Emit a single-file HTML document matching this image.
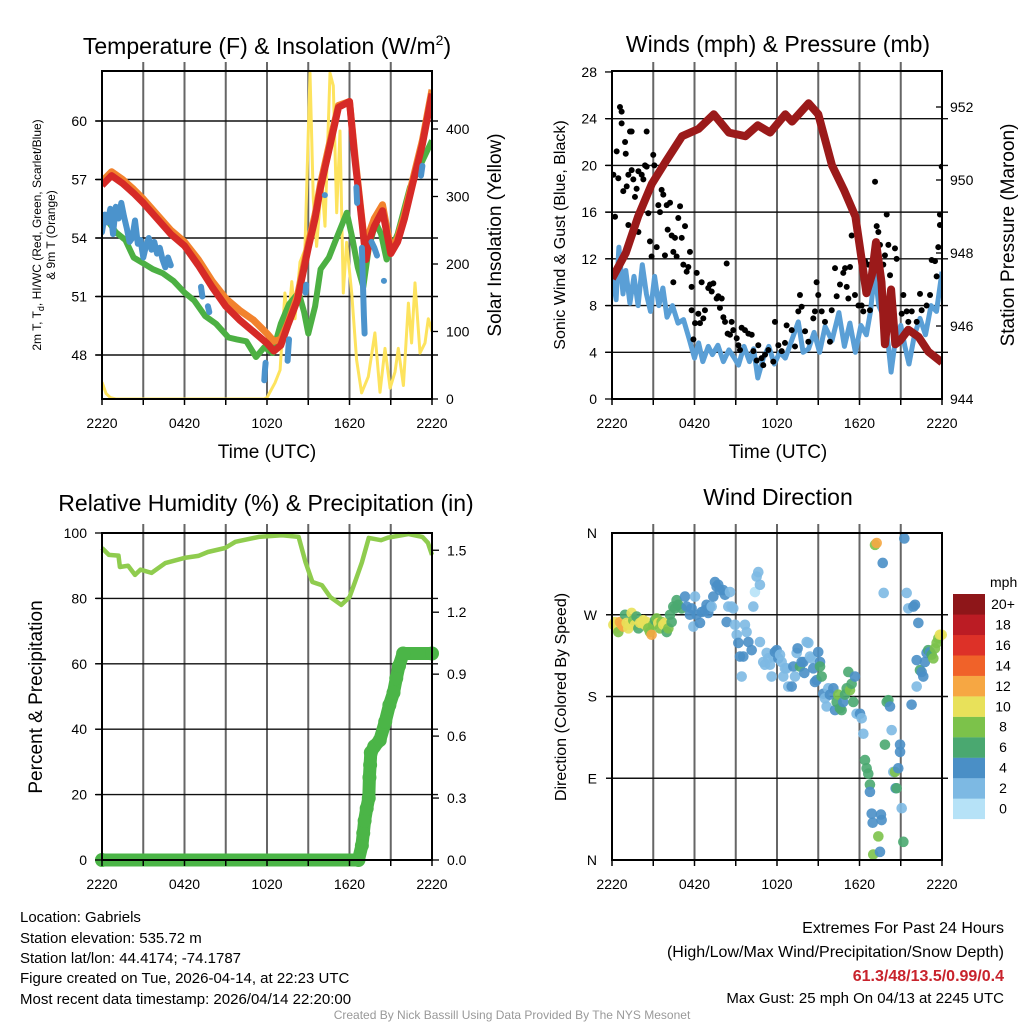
<!DOCTYPE html>
<html><head><meta charset="utf-8"><style>
html,body{margin:0;padding:0;background:#fff;}
svg{display:block;font-family:"Liberation Sans",Arial,sans-serif;}
</style></head><body>
<svg id="s" width="1024" height="1024" viewBox="0 0 1024 1024" xmlns="http://www.w3.org/2000/svg">
<defs>
<clipPath id="c1"><rect x="102" y="71" width="330" height="328"/></clipPath>
<clipPath id="c2"><rect x="612" y="71" width="330" height="328"/></clipPath>
<clipPath id="c3"><rect x="90" y="520" width="355" height="350"/></clipPath>
<clipPath id="c4"><rect x="605" y="525" width="345" height="345"/></clipPath>
</defs>
<g id="grids"></g>
<g id="p1" clip-path="url(#c1)"></g>
<g id="p2" clip-path="url(#c2)"></g>
<g id="p3" clip-path="url(#c3)"></g>
<g id="p4" clip-path="url(#c4)"></g>
<g id="frames"></g>
<g id="labels" font-size="14" fill="#000"></g>

<text x="267" y="54" font-size="23" text-anchor="middle">Temperature (F) &amp; Insolation (W/m<tspan dy="-9" font-size="14">2</tspan><tspan dy="9">)</tspan></text>
<text x="778" y="52" font-size="23" text-anchor="middle">Winds (mph) &amp; Pressure (mb)</text>
<text x="266" y="511" font-size="23" text-anchor="middle">Relative Humidity (%) &amp; Precipitation (in)</text>
<text x="778" y="505" font-size="23" text-anchor="middle">Wind Direction</text>

<text x="267" y="458" font-size="19" text-anchor="middle">Time (UTC)</text>
<text x="778" y="458" font-size="19" text-anchor="middle">Time (UTC)</text>

<text transform="translate(41,235) rotate(-90)" font-size="12" text-anchor="middle">2m T, T<tspan dy="3" font-size="9">d</tspan><tspan dy="-3">, HI/WC (Red, Green, Scarlet/Blue)</tspan></text>
<text transform="translate(55,235) rotate(-90)" font-size="12" text-anchor="middle">&amp; 9m T (Orange)</text>
<text transform="translate(501,235) rotate(-90)" font-size="19" text-anchor="middle">Solar Insolation (Yellow)</text>
<text transform="translate(565,235) rotate(-90)" font-size="16" text-anchor="middle">Sonic Wind &amp; Gust (Blue, Black)</text>
<text transform="translate(1014,235) rotate(-90)" font-size="19" text-anchor="middle">Station Pressure (Maroon)</text>
<text transform="translate(42,697) rotate(-90)" font-size="19" text-anchor="middle">Percent &amp; Precipitation</text>
<text transform="translate(566,697) rotate(-90)" font-size="16" text-anchor="middle">Direction (Colored By Speed)</text>
<text x="990" y="587" font-size="14">mph</text>

<g font-size="15">
<text x="20" y="922">Location: Gabriels</text>
<text x="20" y="943">Station elevation: 535.72 m</text>
<text x="20" y="963">Station lat/lon: 44.4174; -74.1787</text>
<text x="20" y="983">Figure created on Tue, 2026-04-14, at 22:23 UTC</text>
<text x="20" y="1004">Most recent data timestamp: 2026/04/14 22:20:00</text>
</g>
<g font-size="16" text-anchor="end">
<text x="1004" y="933">Extremes For Past 24 Hours</text>
<text x="1004" y="957">(High/Low/Max Wind/Precipitation/Snow Depth)</text>
<text x="1004" y="981" fill="#c8232c" font-weight="bold">61.3/48/13.5/0.99/0.4</text>
<text x="1004" y="1003" font-size="15">Max Gust: 25 mph On 04/13 at 2245 UTC</text>
</g>
<text x="512" y="1019" font-size="12" fill="#999" text-anchor="middle">Created By Nick Bassill Using Data Provided By The NYS Mesonet</text>
</svg>
<script>
// ---------- data ----------
const xTickLabels = ["2220","0420","1020","1620","2220"];
const tempTicks = [48,51,54,57,60];
const solarTicks = [0,100,200,300,400];
const windTicks = [0,4,8,12,16,20,24,28];
const pressTicks = [944,946,948,950,952];
const rhTicks = [0,20,40,60,80,100];
const precipTicks = [0.0,0.3,0.6,0.9,1.2,1.5];
const dirLabels = ["N","E","S","W","N"];
const dirTicks = [0,90,180,270,360];
const cbarLabels = ["0","2","4","6","8","10","12","14","16","18","20+"];

const tempTimes = [0,0.7,1.5,2.3,3,4,5,6,7,8,9,10,11,12,12.5,13,13.5,14.2,15,15.5,15.9,16.5,17.2,18,18.4,18.8,19.2,19.5,19.8,20.4,21,21.5,22,22.6,23.3,24];
const temp2m = [56.7,57.2,56.8,56.3,55.8,55.0,54.2,53.6,52.6,51.5,50.5,49.8,49.2,48.6,48.2,48.5,49.5,50.8,53.5,55.0,56.6,58.5,60.7,61.0,58.0,55.5,52.9,54.0,54.6,55.4,53.2,53.8,55.0,56.8,58.8,61.4];
const temp9m = [56.9,57.4,57.0,56.5,56.0,55.2,54.4,53.8,52.9,51.8,50.9,50.3,49.8,49.1,48.7,48.8,49.6,51.0,53.7,55.2,56.8,58.7,60.8,61.0,58.2,55.6,53.1,54.4,55.0,55.7,53.4,54.0,55.2,57.0,59.0,61.6];
const dewTimes = [0,0.5,1.0,1.7,2.3,3,3.7,4.4,5.2,6,6.7,7.5,8.3,9.2,9.8,10.5,11.2,11.8,12.4,13,13.6,14.3,14.7,15,15.5,15.9,16.5,17,17.8,18.2,18.6,19,19.4,19.9,20.3,20.7,21.5,22.4,23.2,24];
const dewpoint = [55.2,54.8,54.3,53.9,53.0,52.7,52.4,52.2,51.8,51.2,50.8,50.0,49.6,48.9,48.8,48.7,47.9,48.4,48.1,49.6,50.6,51.2,50.2,49.1,50.5,52.4,53.0,53.9,55.3,54.0,52.5,51.5,53.5,54.8,54.2,52.9,54.2,56.6,57.8,59.0];
const wcTimes = [0,0.2,0.4,0.6,0.8,1.0,1.2,1.4,1.6,1.8,2.0,2.2,2.4,2.6,2.8,3.0,3.2,3.4,3.6,3.8,4.0,4.2,4.4,4.6,4.8,5.0,7.2,7.3,7.7,7.8,11.8,11.85,11.9,13.5,13.55,13.6,14.8,14.85,16.2,18.5,18.55,18.9,18.95,19.0,19.05,19.1,19.6,19.8,20.0,20.5,23.2,23.3];
const windChill = [54.3,55.2,54.8,55.5,54.2,55.6,55.0,55.8,55.1,54.5,53.8,54.0,54.9,53.7,53.9,53.0,53.6,54.0,53.4,53.8,53.2,53.5,52.9,52.5,53.0,52.6,51.5,51.0,50.5,50.2,46.7,47.2,47.6,47.7,48.3,48.8,51.2,51.6,56.2,56.6,55.8,53.5,52.3,51.0,50.0,49.1,53.8,53.5,53.1,51.8,57.2,57.7];
const solarTimes = [0,0.3,0.6,1,11.8,12.0,12.58,12.95,13.3,13.55,13.8,14.04,14.4,14.76,15.13,15.37,15.61,15.98,16.22,16.58,16.82,17.07,17.31,17.55,17.79,18.16,18.52,18.88,19.37,19.85,20.22,20.58,20.95,21.31,21.55,21.92,22.28,22.52,22.76,23.13,23.49,23.73,24];
const solar = [25,8,2,0,0,2,24,43,157,114,174,119,203,221,483,296,226,323,256,483,464,276,397,157,232,157,58,9,33,98,10,75,16,40,75,20,142,83,172,68,83,119,100];

const windTimes = [0,0.3,0.5,0.8,1.0,1.3,1.6,1.9,2.2,2.5,2.8,3.1,3.4,3.7,4.0,4.4,4.8,5.2,5.6,6.0,6.3,6.6,7.0,7.3,7.7,8.1,8.5,8.9,9.2,9.6,10.0,10.3,10.6,11.0,11.4,11.8,12.2,12.6,13.0,13.55,13.9,14.3,14.7,15.1,15.5,16.0,16.5,16.9,17.3,17.7,18.1,18.5,18.8,19.1,19.4,19.85,20.1,20.3,20.6,21.0,21.3,21.6,22.0,22.4,22.8,23.2,23.6,24.0];
const windSpeed = [10.9,8.5,13,9,11,8.2,10.5,8,11.5,9,7.5,10.5,8,9.5,7,8,6.5,6.8,5.2,3.5,4.8,3.2,4.5,3.8,4.6,3.2,4.2,3.5,2.9,4.5,3.2,4.3,1.8,3.5,4.5,3.0,4.0,3.5,4.8,6.6,4.0,4.3,5.7,4.0,6.2,5.0,7.4,4.5,6.5,4.0,6.3,5.5,7.5,10.9,8,6.8,4.5,2.3,5,6.3,4.5,3.0,5.5,6.9,5.5,8.0,7.5,10.9];
const gustTimes = [0.1,0.34,0.22,0.46,0.58,0.7,0.7,0.82,0.95,1.0,1.07,1.19,1.19,1.31,1.43,1.43,1.55,1.67,1.79,1.92,1.92,2.04,2.16,2.28,2.4,2.52,2.52,2.64,2.76,2.88,3.0,3.08,3.25,3.37,3.49,3.61,3.73,3.85,3.98,4.05,4.22,4.34,4.46,4.46,4.58,4.7,4.82,4.95,5.07,5.19,5.31,5.43,5.55,5.67,5.79,5.79,5.92,6.04,6.16,6.28,6.4,6.52,6.64,6.76,7.0,7.13,7.25,7.37,7.61,7.73,7.85,7.98,8.1,8.22,8.34,8.41,8.58,8.7,8.82,9.07,9.19,9.31,9.43,9.67,9.92,10.16,10.28,10.52,10.64,10.88,11.0,11.13,11.37,11.73,11.85,12.1,12.34,12.58,12.7,13.07,13.31,13.55,13.67,13.79,14.04,14.28,14.64,14.76,14.88,15.0,15.25,15.49,15.85,15.98,16.22,16.34,16.58,16.82,16.95,17.07,17.19,17.31,17.43,17.67,17.92,18.16,18.28,18.4,18.64,18.76,19.13,19.25,19.37,19.49,19.73,19.85,19.98,20.1,20.22,20.58,20.7,21.07,21.19,21.43,21.55,21.8,22.16,22.4,22.52,22.88,23.13,23.25,23.49,23.61,23.73,23.85,23.85,23.98];
const gustSpeed = [19.2,21.2,15.6,18.9,25.0,24.6,23.6,17.8,22.0,21.0,18.2,14.9,19.2,22.9,22.9,19.6,18.8,17.3,18.0,19.5,14.3,16.0,19.2,18.8,20.0,22.9,19.9,15.9,13.5,12.2,20.9,20.0,13.0,16.6,16.0,17.9,17.5,12.3,16.6,14.5,16.8,14.0,10.0,12.6,13.8,12.2,15.5,16.5,13.8,11.5,14.8,10.9,11.3,12.6,9.6,7.6,5.1,6.5,10.8,7.3,6.5,10.0,6.9,7.6,9.5,9.8,9.2,9.9,8.6,8.8,7.8,8.6,7.0,6.6,11.6,5.6,5.5,6.6,5.9,5.2,4.6,4.2,6.1,5.9,5.6,5.5,4.1,3.3,4.6,3.5,2.9,3.8,4.2,3.2,6.6,4.6,4.1,4.8,6.3,5.9,4.5,7.5,8.9,7.9,5.8,4.9,6.9,7.5,10.0,8.9,7.5,6.6,4.9,7.6,11.2,8.8,9.8,10.8,11.2,9.6,8.6,11.3,14.0,8.9,8.0,8.0,7.5,11.8,11.5,7.6,18.6,14.8,14.3,13.2,11.5,12.3,15.8,13.2,10.6,12.9,12.0,7.3,8.9,7.5,6.6,7.5,6.6,9.0,7.6,8.0,8.9,11.9,11.8,10.5,13.0,14.9,15.8,19.9];
const pressTimes = [0,1.0,1.9,2.9,3.9,5.1,6.3,7.4,8.5,9.7,10.6,11.5,12.6,13.1,14.3,15.0,16.0,16.9,17.7,18.2,18.5,18.9,19.2,19.6,19.85,20.3,20.6,20.95,21.55,22.3,23.0,24];
const pressure = [947.3,948.0,949.0,949.9,950.5,951.2,951.4,951.8,951.3,951.2,951.5,951.3,951.8,951.6,952.1,951.8,950.4,949.7,949.0,947.7,946.9,947.4,948.3,947.2,945.5,947.0,945.5,945.6,945.9,945.7,945.3,945.0];

const rhTimes = [0,0.5,1.2,1.3,1.9,2.4,2.8,3.6,4.6,6.0,7.0,7.7,8.95,9.7,11.4,13.1,14.3,14.8,15.3,16.0,16.6,17.4,18.0,18.4,18.9,19.4,20.3,20.8,22.3,23.3,23.7,24];
const rh = [95.4,93.3,93.1,89.6,90.0,87.2,88.8,87.8,90.8,92.4,93.0,94.2,95.4,97.3,98.8,99.3,98.8,91.1,85.0,84.0,80.4,78.0,80.4,85.0,91.0,98.5,97.8,98.6,99.7,98.8,97.0,93.3];
const precipTimes = [0,18.65,18.9,19.0,19.1,19.25,19.4,19.45,19.5,19.55,19.8,20.2,20.6,20.9,21.2,21.4,21.6,21.9,24];
const precip = [0,0,0.07,0.13,0.19,0.25,0.30,0.40,0.46,0.52,0.55,0.58,0.67,0.75,0.81,0.88,0.94,1.0,1.0];

const dirTimes = [0.1,0.22,0.34,0.46,0.58,0.7,0.82,0.95,1.07,1.19,1.31,1.43,1.55,1.67,1.79,1.92,2.04,2.16,2.28,2.4,2.52,2.64,2.76,2.88,3.0,3.13,3.25,3.37,3.49,3.61,3.73,3.85,3.98,4.1,4.22,4.34,4.46,4.58,4.7,4.82,5.07,5.31,5.43,5.67,5.79,5.92,6.04,6.16,6.4,6.52,6.76,6.88,7.0,7.13,7.25,7.37,7.49,7.61,7.73,7.85,8.1,8.22,8.34,8.46,8.58,8.7,8.82,8.95,9.07,9.19,9.31,9.43,9.55,9.67,9.79,9.92,10.16,10.28,10.4,10.52,10.64,10.76,10.76,11.0,11.13,11.25,11.37,11.49,11.61,11.73,11.85,11.98,12.1,12.22,12.34,12.46,12.58,12.7,12.82,13.07,13.19,13.31,13.43,13.5,13.67,13.79,13.92,13.99,14.16,14.28,14.4,14.52,14.64,14.76,14.88,15.0,15.13,15.13,15.25,15.37,15.49,15.61,15.73,15.85,16.1,16.22,16.34,16.46,16.58,16.7,16.82,16.95,17.07,17.19,17.31,17.43,17.55,17.67,17.79,18.04,18.16,18.28,18.4,18.52,18.64,18.76,18.76,18.89,18.96,19.0,19.13,19.25,19.37,19.49,19.56,19.61,19.69,19.76,19.85,19.98,20.1,20.22,20.34,20.46,20.58,20.63,20.7,20.82,20.95,20.95,21.07,21.19,21.26,21.43,21.55,21.79,21.92,22.04,22.16,22.16,22.28,22.4,22.52,22.64,22.76,22.88,23.0,23.13,23.25,23.37,23.49,23.61,23.73,23.85,23.98];
const dirDeg = [259,262,255,251,262,259,257,270,261,255,259,272,264,259,268,255,261,262,264,259,262,255,251,248,259,264,266,261,255,262,259,261,251,255,270,262,279,277,286,281,277,290,279,270,277,257,290,270,261,273,275,281,272,279,279,290,306,301,303,297,297,292,262,279,295,279,277,259,248,239,224,202,224,259,251,240,231,279,295,312,317,303,240,218,215,228,222,215,202,224,229,231,222,226,218,202,211,211,191,191,213,202,228,233,213,218,218,206,240,239,224,222,211,196,198,229,218,213,202,183,178,169,189,182,189,165,174,182,167,165,174,182,189,207,187,194,174,202,161,161,156,139,110,101,95,83,75,51,41,6,347,349,26,9,50,44,327,294,127,174,176,169,143,97,97,79,79,101,127,119,57,20,354,294,277,171,279,281,191,220,261,209,207,202,218,228,231,229,226,222,233,239,244,248,248];
const dirSpeed = [10,10,10,8,12,12,12,6,10,10,10,10,8,10,6,6,10,10,10,10,10,8,8,12,8,6,8,10,8,8,10,10,6,8,6,6,6,6,6,6,6,4,4,4,4,2,2,4,4,4,4,4,4,4,2,4,4,4,4,4,4,4,4,2,2,2,2,2,2,4,4,2,4,2,2,4,4,2,0,2,2,2,2,2,2,2,2,2,2,2,4,4,4,2,2,2,2,2,2,4,4,2,2,4,6,4,4,4,2,2,2,2,4,4,4,4,4,6,6,4,2,2,2,4,4,4,6,8,6,6,4,6,6,6,8,6,6,4,2,4,2,2,6,6,6,6,4,4,4,8,8,12,8,4,4,4,4,2,6,6,6,4,2,2,8,4,6,4,4,4,2,6,4,2,2,4,4,4,2,4,4,6,4,4,4,4,6,4,6,8,8,8,8,10,10];
const speedColors = ["#b6e2f7","#7db9e3","#4a8fc6","#4aa870","#7cc24a","#e8e15a","#f6a743","#f06229","#dd3128","#bb1c24","#8e1619"];

// ---------- scales ----------
const X1 = t => 102 + t*13.75;
const X2 = t => 612 + t*13.75;
const yTemp = v => 355 - (v-48)*19.5;
const ySolar = s => 399 - s*0.675;
const yWind = w => 399 - w*11.68;
const yPress = p => 399 - (p-944)*36.5;
const yRH = r => 860 - r*3.27;
const yPrecip = p => 860 - p*206.5;
const yDir = d => 860 - d*0.9083;

const NS = "http://www.w3.org/2000/svg";
function mk(parent, tag, attrs){const e=document.createElementNS(NS,tag);for(const k in attrs)e.setAttribute(k,attrs[k]);parent.appendChild(e);return e;}
const G = id => document.getElementById(id);
const grids=G('grids'), frames=G('frames'), labels=G('labels');

// ---------- grids & frames ----------
function panelGrid(x0, y0, y1, hLines, name){
  for(let i=1;i<8;i++){
    const x = x0 + i*3*13.75;
    const l = mk(grids,'line',{x1:x,x2:x,y1:y0-9,y2:y1,stroke:'#666','stroke-width':2});
    
    
  }
  hLines.forEach(y=>{
    const l = mk(grids,'line',{x1:x0-6,x2:x0+336,y1:y,y2:y,stroke:'#111','stroke-width':1.4});
    
    
  });
  const f = mk(frames,'rect',{x:x0,y:y0,width:330,height:y1-y0,fill:'none',stroke:'#000','stroke-width':2});
  
  
  for(let i=0;i<=8;i++){
    const x=x0+i*3*13.75;
    const tk = mk(frames,'line',{x1:x,x2:x,y1:y1,y2:y1+6,stroke:'#000','stroke-width':1.5});
    
    
  }
  xTickLabels.forEach((s,i)=>{
    const tx = mk(labels,'text',{x:x0+i*82.5,y:y1+29,'text-anchor':'middle'});
    tx.textContent=s;
    
    
  });
}
panelGrid(102,71,399,tempTicks.map(yTemp),'temperature');
panelGrid(612,71,399,windTicks.slice(1,7).map(yWind),'winds');
panelGrid(102,533,860,rhTicks.slice(1,5).map(yRH),'humidity');
panelGrid(612,533,860,dirTicks.slice(1,4).map(yDir),'direction');

function yAxis(vals, yf, x, anchor, side, name, fmt){
  vals.forEach(v=>{
    const y=yf(v);
    const tk = mk(frames,'line',{x1:side<0?x+8:x-8,x2:side<0?x+14:x-14,y1:y,y2:y,stroke:'#000','stroke-width':1.3});
    
    
    const t = mk(labels,'text',{x:x,y:y+5,'text-anchor':anchor});
    t.textContent = fmt?fmt(v):v;
    
    
  });
}
yAxis(tempTicks,yTemp,87,'end',-1,'temperature-y');
yAxis(solarTicks,ySolar,446,'start',1,'solar-y');
yAxis(windTicks,yWind,597,'end',-1,'wind-y');
yAxis(pressTicks,yPress,950,'start',1,'pressure-y');
yAxis(rhTicks,yRH,87,'end',-1,'humidity-y');
yAxis(precipTicks,yPrecip,447,'start',1,'precip-y',v=>v.toFixed(1));
dirTicks.forEach((d,i)=>{
  const t = mk(labels,'text',{x:597,y:yDir(d)+5,'text-anchor':'end'});
  t.textContent = dirLabels[i];
  
  
});

// ---------- helpers ----------
function pathD(ts, vs, xf, yf){return ts.map((t,i)=>(i?'L':'M')+xf(t).toFixed(1)+','+yf(vs[i]).toFixed(1)).join('');}

// ---------- panel 1 ----------
const p1=G('p1');
let e;
e = mk(p1,'path',{d:pathD(solarTimes,solar,X1,ySolar),fill:'none',stroke:'#fde35e','stroke-width':3,'stroke-linejoin':'round'});


e = mk(p1,'path',{d:pathD(dewTimes,dewpoint,X1,yTemp),fill:'none',stroke:'#4cb043','stroke-width':6,'stroke-linejoin':'round'});


e = mk(p1,'path',{d:pathD(tempTimes,temp9m,X1,yTemp),fill:'none',stroke:'#f2822d','stroke-width':7,'stroke-linejoin':'round'});


e = mk(p1,'path',{d:pathD(tempTimes,temp2m,X1,yTemp),fill:'none',stroke:'#d62a27','stroke-width':7,'stroke-linejoin':'round'});


// wind chill segments
{
  let seg=[0];
  const flush=()=>{
    const ts=seg.map(i=>wcTimes[i]), vs=seg.map(i=>windChill[i]);
    let d = pathD(ts,vs,X1,yTemp);
    if(seg.length===1) d += 'l0.1,0';
    const s = mk(p1,'path',{d:d,fill:'none',stroke:'#4b93cc','stroke-width':6,'stroke-linecap':'round','stroke-linejoin':'round'});
    
    
  };
  for(let i=1;i<wcTimes.length;i++){
    if(wcTimes[i]-wcTimes[i-1]<=0.3) seg.push(i); else {flush(); seg=[i];}
  }
  flush();
}
// ---------- panel 2 ----------
const p2=G('p2');
e = mk(p2,'path',{d:pathD(windTimes,windSpeed,X2,yWind),fill:'none',stroke:'#5a9fd6','stroke-width':5,'stroke-linejoin':'round'});


gustTimes.forEach((t,i)=>{
  const c = mk(p2,'circle',{cx:X2(t),cy:yWind(gustSpeed[i]),r:3,fill:'#000'});
  
  
});
e = mk(p2,'path',{d:pathD(pressTimes,pressure,X2,yPress),fill:'none',stroke:'#9b1a1a','stroke-width':8,'stroke-linejoin':'round'});


// ---------- panel 3 ----------
const p3=G('p3');
e = mk(p3,'path',{d:pathD(rhTimes,rh,X1,yRH),fill:'none',stroke:'#8fcc4e','stroke-width':4.5,'stroke-linejoin':'round'});


e = mk(p3,'path',{d:pathD(precipTimes,precip,X1,yPrecip),fill:'none',stroke:'#4bb547','stroke-width':13,'stroke-linecap':'round','stroke-linejoin':'round'});


precipTimes.forEach((t,i)=>{
  const c = mk(p3,'circle',{cx:X1(t),cy:yPrecip(precip[i]),r:7,fill:'#4bb547'});
  
  
});
// ---------- panel 4 ----------
const p4=G('p4');
dirTimes.forEach((t,i)=>{
  const ci = Math.min(10, Math.round(dirSpeed[i]/2));
  const c = mk(p4,'circle',{cx:X2(t),cy:yDir(dirDeg[i]),r:5.3,fill:speedColors[ci],'fill-opacity':0.9});
  
  
});
// colorbar
cbarLabels.forEach((s,i)=>{
  const y = 798.5 - i*20.45;
  const r = mk(frames,'rect',{x:953,y:y,width:32,height:20.6,fill:speedColors[i]});
  
  
  const t = mk(labels,'text',{x:1003,y:y+15,'text-anchor':'middle'});
  t.textContent = s;
  
  
});
</script>
</body></html>
